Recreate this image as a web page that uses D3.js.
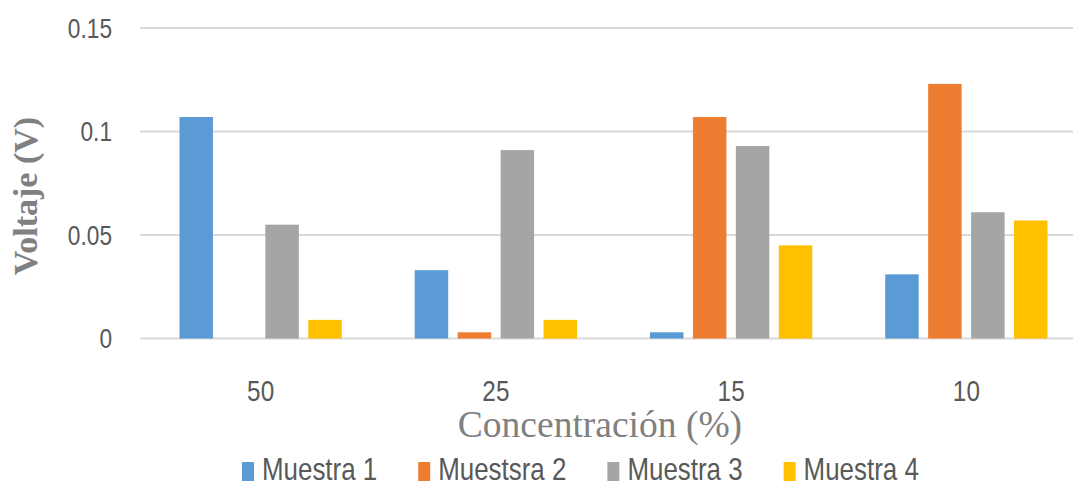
<!DOCTYPE html>
<html>
<head>
<meta charset="utf-8">
<script src="https://cdn.jsdelivr.net/npm/d3@7"></script>
<style>
  html, body { margin: 0; padding: 0; background: #ffffff; }
  svg { display: block; }
  .narrow { font-family: "Liberation Sans", Arial, sans-serif; }
</style>
</head>
<body>
<svg id="chart" width="1073" height="484"></svg>
<script>
const categories = ["50", "25", "15", "10"];
const seriesNames = ["Muestra 1", "Muestsra 2", "Muestra 3", "Muestra 4"];
const muestra1 = [0.107, 0.033, 0.003, 0.031];
const muestra2 = [0.000, 0.003, 0.107, 0.123];
const muestra3 = [0.055, 0.091, 0.093, 0.061];
const muestra4 = [0.009, 0.009, 0.045, 0.057];
const yTicks = [0, 0.05, 0.1, 0.15];
const yTickLabels = ["0", "0.05", "0.1", "0.15"];
const colors = ["#5b9bd5", "#ed7d31", "#a5a5a5", "#ffc000"];

const seriesValues = [muestra1, muestra2, muestra3, muestra4];
const SQ = 0.81; // horizontal squeeze for the condensed sans labels

const svg = d3.select("#chart");

const x0 = d3.scaleBand().domain(categories).range([143, 1084]).paddingInner(0.27).paddingOuter(0.135);
const x1 = d3.scaleBand().domain(d3.range(seriesNames.length)).range([0, x0.bandwidth()]).paddingInner(0.22).paddingOuter(0.11);
const y = d3.scaleLinear().domain([0, 0.15]).range([338.5, 28]);

// gridlines
svg.append("g").selectAll("line").data(yTicks).join("line")
  .attr("x1", 140).attr("x2", 1073)
  .attr("y1", d => y(d)).attr("y2", d => y(d))
  .attr("stroke", "#d9d9d9").attr("stroke-width", 2);

// y tick labels
svg.append("g").selectAll("text").data(yTicks).join("text")
  .attr("class", "narrow")
  .attr("transform", d => `translate(112,${y(d) + 9.5}) scale(${SQ},1)`)
  .attr("text-anchor", "end")
  .attr("font-size", 28)
  .attr("fill", "#595959")
  .text((d, i) => yTickLabels[i]);

// bars
const groups = svg.append("g").selectAll("g").data(categories).join("g")
  .attr("transform", d => `translate(${x0(d)},0)`);

groups.selectAll("rect")
  .data((c, ci) => seriesValues.map((vals, si) => ({ si, v: vals[ci] })))
  .join("rect")
  .attr("x", d => x1(d.si))
  .attr("width", x1.bandwidth())
  .attr("y", d => y(d.v))
  .attr("height", d => y(0) - y(d.v))
  .attr("fill", d => colors[d.si]);

// x tick labels
svg.append("g").selectAll("text").data(categories).join("text")
  .attr("class", "narrow")
  .attr("transform", d => `translate(${x0(d) + x0.bandwidth() / 2},401) scale(${SQ},1)`)
  .attr("text-anchor", "middle")
  .attr("font-size", 30)
  .attr("fill", "#595959")
  .text(d => d);

// axis titles
svg.append("text")
  .attr("x", 600).attr("y", 437)
  .attr("text-anchor", "middle")
  .attr("font-family", "'Liberation Serif', 'Times New Roman', serif")
  .attr("font-size", 37.5)
  .attr("fill", "#808080")
  .text("Concentración (%)");

svg.append("text")
  .attr("transform", "translate(25,196) rotate(-90)")
  .attr("text-anchor", "middle")
  .attr("dominant-baseline", "central")
  .attr("font-family", "'Liberation Serif', 'Times New Roman', serif")
  .attr("font-weight", "bold")
  .attr("font-size", 34)
  .attr("fill", "#808080")
  .text("Voltaje (V)");

// legend
const legend = svg.append("g");
let lx = 242;
seriesNames.forEach((name, i) => {
  legend.append("rect")
    .attr("x", lx).attr("y", 462)
    .attr("width", 12).attr("height", 19)
    .attr("fill", colors[i]);
  const t = legend.append("text")
    .attr("class", "narrow")
    .attr("transform", `translate(${lx + 20},480) scale(${SQ},1)`)
    .attr("font-size", 32)
    .attr("fill", "#595959")
    .text(name);
  lx += 20 + t.node().getComputedTextLength() * SQ + 41;
});
</script>
</body>
</html>
